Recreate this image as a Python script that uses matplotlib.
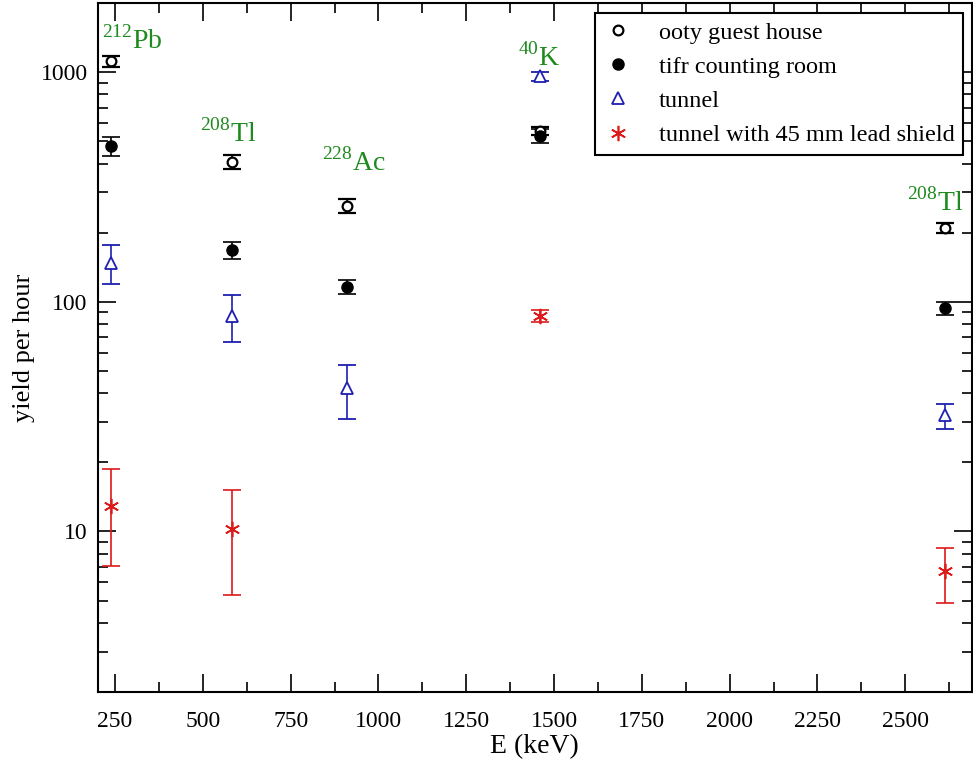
import matplotlib.pyplot as plt
from matplotlib.lines import Line2D
from matplotlib.ticker import LogLocator, MultipleLocator, NullFormatter, FixedLocator

# gamma line energies (keV)
energy = [238.6, 583.2, 911.2, 1460.8, 2614.5]
energy_lead = [238.6, 583.2, 1460.8, 2614.5]

# yield per hour at each site
ooty = [1115, 407, 262, 555, 210]
ooty_err = [60, 29, 18, 22, 10]
tifr = [475, 168, 116, 528, 94]
tifr_err = [45, 14, 8, 35, 6]
tunnel = [148, 87, 42, 960, 32]
tunnel_err = [29, 20, 11, 45, 4]
lead = [12.9, 10.2, 87, 6.7]
lead_err = [5.8, 4.9, 5, 1.8]

# isotope labels: (text, x, y)
iso_labels = [
    (r"$^{212}$Pb", 212, 1270),
    (r"$^{208}$Tl", 492, 500),
    (r"$^{228}$Ac", 838, 372),
    (r"$^{40}$K", 1398, 1065),
    (r"$^{208}$Tl", 2506, 250),
]

plt.rcParams.update({
    "font.family": ["Liberation Serif", "DejaVu Serif"],
    "mathtext.fontset": "custom",
    "mathtext.rm": "Liberation Serif",
    "font.size": 17,
})

BLUE = "#1f1fb0"
RED = "#dd1a1a"
GREEN = "#1f8a1f"

fig = plt.figure(figsize=(9.73, 7.61), dpi=100)
ax = fig.add_axes([97.5 / 973, 1 - 692 / 761, (972 - 97.5) / 973, 689 / 761])

eb = dict(capsize=6.5, elinewidth=1.2, capthick=1.2, linestyle="none")
ax.errorbar(energy, ooty, yerr=ooty_err, color="black", marker="o", ms=7,
            mfc="white", mec="black", mew=1.6, **eb)
ax.errorbar(energy, tifr, yerr=tifr_err, color="black", marker="o", ms=8,
            mfc="black", mec="black", **eb)
ax.errorbar(energy, tunnel, yerr=tunnel_err, color=BLUE, marker="^", ms=9,
            mfc="white", mec=BLUE, mew=1.3, **eb)
ax.errorbar(energy_lead, lead, yerr=lead_err, color=RED, marker=(6, 2, 0), ms=11,
            mec=RED, mew=1.2, **eb)

for txt, x, y in iso_labels:
    ax.text(x, y, txt, color=GREEN, fontsize=20, ha="left", va="baseline")

ax.set_yscale("log")
ax.set_xlim(200, 2690)
ax.set_ylim(2, 2000)

ax.xaxis.set_major_locator(FixedLocator([250, 500, 750, 1000, 1250, 1500, 1750, 2000, 2250, 2500]))
ax.xaxis.set_minor_locator(MultipleLocator(125))
ax.yaxis.set_major_locator(FixedLocator([10, 100, 1000]))
ax.yaxis.set_minor_locator(LogLocator(base=10, subs=range(2, 10)))
ax.yaxis.set_minor_formatter(NullFormatter())
ax.set_yticklabels(["10", "100", "1000"])

ax.tick_params(which="both", direction="in", top=True, right=True, width=1.2,
               labelsize=17)
ax.tick_params(axis="x", pad=14)
ax.tick_params(axis="y", pad=7)
ax.tick_params(which="major", length=13)
ax.tick_params(which="minor", length=7)
for s in ax.spines.values():
    s.set_linewidth(1.5)

ax.set_xlabel("E (keV)", fontsize=20, labelpad=1)
ax.set_ylabel("yield per hour", fontsize=19, labelpad=4)

handles = [
    Line2D([], [], ls="none", marker="o", ms=7, mfc="white", mec="black", mew=1.6),
    Line2D([], [], ls="none", marker="o", ms=8, mfc="black", mec="black"),
    Line2D([], [], ls="none", marker="^", ms=9, mfc="white", mec=BLUE, mew=1.3),
    Line2D([], [], ls="none", marker=(6, 2, 0), ms=11, mec=RED, mew=1.2),
]
names = ["ooty guest house", "tifr counting room", "tunnel", "tunnel with 45 mm lead shield"]
leg = ax.legend(handles, names, loc="upper right", bbox_to_anchor=(0.99, 0.9855),
                borderaxespad=0, fontsize=17.5, frameon=True, fancybox=False,
                handlelength=1.2, handletextpad=1.1, labelspacing=0.5,
                borderpad=0.35, edgecolor="black", framealpha=1)
leg.get_frame().set_linewidth(1.5)

fig.savefig("out.png", dpi=100)
